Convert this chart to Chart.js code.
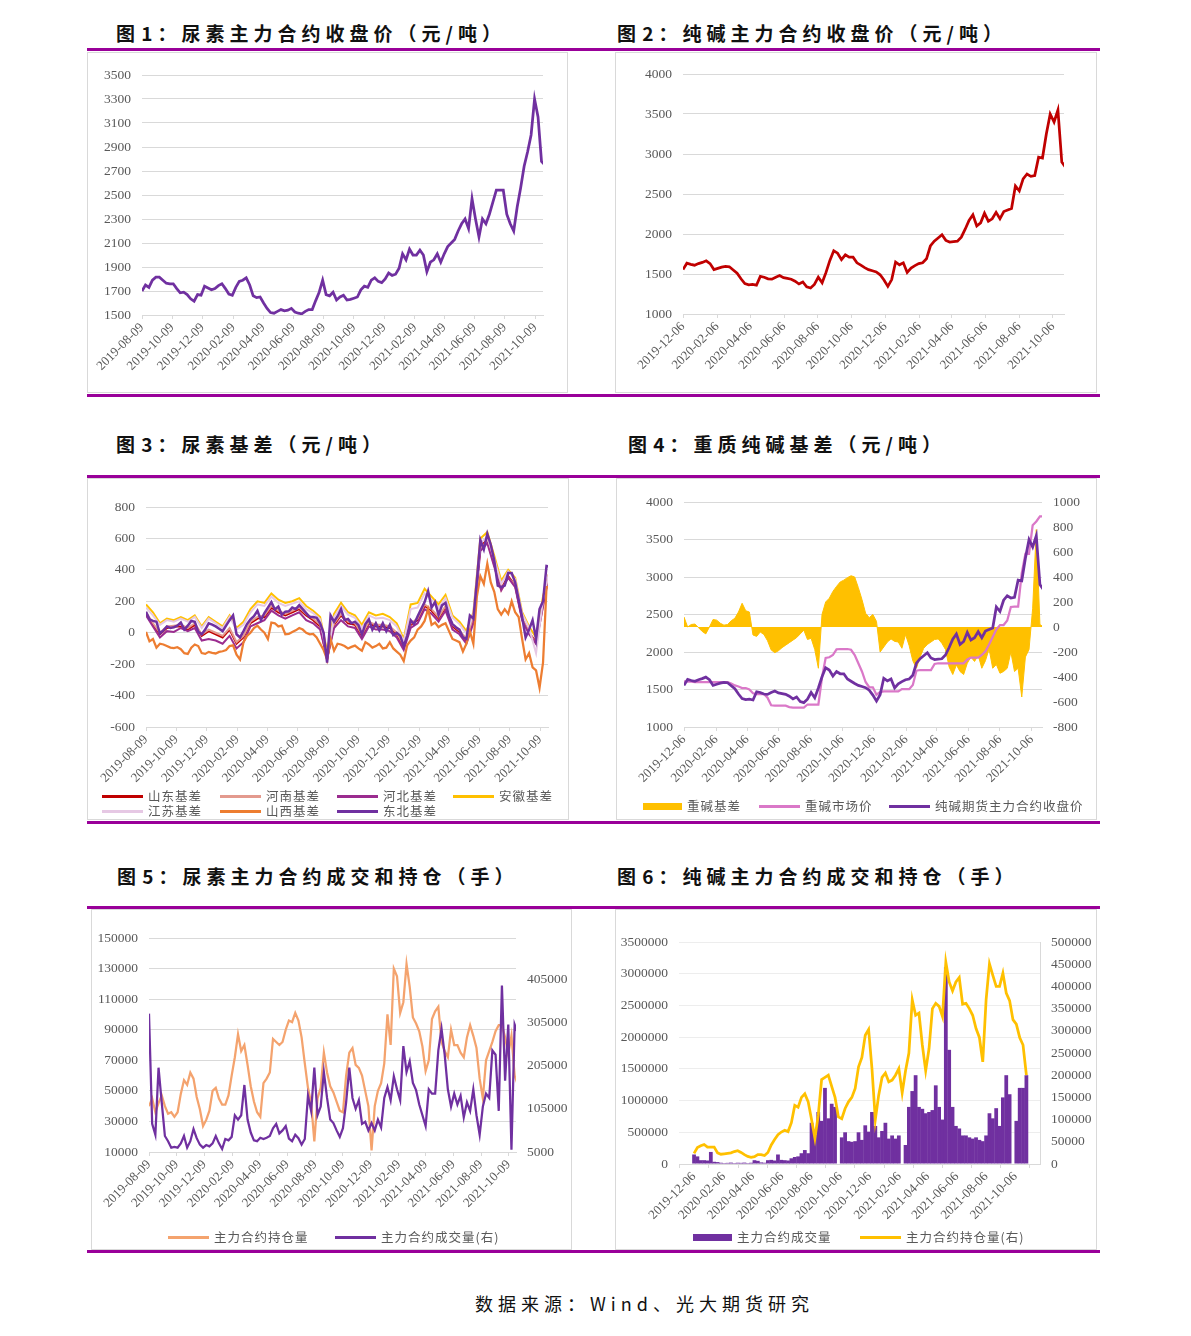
<!DOCTYPE html>
<html><head><meta charset="utf-8">
<script src="https://cdn.jsdelivr.net/npm/chart.js@4.4.1/dist/chart.umd.min.js"></script>
<style>
html,body{margin:0;padding:0;background:#fff;}
#page{position:relative;width:1191px;height:1336px;overflow:hidden;background:#fff;}
.title{position:absolute;font-family:'Noto Sans CJK SC',sans-serif;font-weight:700;font-size:19px;line-height:19px;letter-spacing:5px;word-spacing:-8px;color:#111;white-space:nowrap;}
.rule{position:absolute;left:87px;width:1013px;height:3px;background:#990099;}
.panel{position:absolute;box-sizing:border-box;border:1px solid #d9d9d9;}
canvas{position:absolute;}
.lg{position:absolute;display:flex;align-items:center;height:14px;font-family:'Noto Sans CJK SC',sans-serif;font-size:12.5px;line-height:14px;letter-spacing:1px;color:#595959;white-space:nowrap;}
.lg .mk{display:inline-block;margin-right:5px;}
.foot{position:absolute;left:475px;top:1293px;font-family:'Noto Sans CJK SC',sans-serif;font-size:18px;line-height:20px;letter-spacing:5px;color:#111;white-space:nowrap;}
</style></head>
<body>
<div id="page">
  <div class="title" style="left:116px;top:23px">图 1：尿素主力合约收盘价（元/吨）</div>
  <div class="title" style="left:617px;top:23px">图 2：纯碱主力合约收盘价（元/吨）</div>
  <div class="rule" style="top:48px"></div>
  <div class="panel" style="left:87px;top:52px;width:481px;height:341px"></div>
  <div class="panel" style="left:615px;top:52px;width:482px;height:341px"></div>
  <div class="rule" style="top:394px"></div>

  <div class="title" style="left:116px;top:434px">图 3：尿素基差（元/吨）</div>
  <div class="title" style="left:628px;top:434px">图 4：重质纯碱基差（元/吨）</div>
  <div class="rule" style="top:475px"></div>
  <div class="panel" style="left:87px;top:478px;width:482px;height:342px"></div>
  <div class="panel" style="left:616px;top:478px;width:481px;height:342px"></div>
  <div class="rule" style="top:821px"></div>

  <div class="title" style="left:117px;top:866px">图 5：尿素主力合约成交和持仓（手）</div>
  <div class="title" style="left:617px;top:866px">图 6：纯碱主力合约成交和持仓（手）</div>
  <div class="rule" style="top:906px"></div>
  <div class="panel" style="left:91px;top:909px;width:481px;height:341px"></div>
  <div class="panel" style="left:615px;top:909px;width:482px;height:341px"></div>
  <div class="rule" style="top:1250px"></div>

  <canvas id="c1" width="479" height="340" style="left:87px;top:52px;width:479px;height:340px"></canvas>
  <canvas id="c2" width="482" height="340" style="left:615px;top:52px;width:482px;height:340px"></canvas>
  <canvas id="c3" width="483" height="340" style="left:87px;top:479px;width:483px;height:340px"></canvas>
  <canvas id="c4" width="482" height="340" style="left:615px;top:479px;width:482px;height:340px"></canvas>
  <canvas id="c5" width="481" height="339" style="left:91px;top:910px;width:481px;height:339px"></canvas>
  <canvas id="c6" width="482" height="339" style="left:615px;top:910px;width:482px;height:339px"></canvas>

  <div class="foot">数据来源：Wind、光大期货研究</div>
</div>
<script>
// ---------------- DATA ----------------
const ureaStart = '2019-08-09';   // first sample of urea series
const sodaStart = '2019-12-06';   // first sample of soda ash series
const weekStep = 7;               // days between samples
const biweekStep = 14;

const ureaDateTicks = ['2019-08-09','2019-10-09','2019-12-09','2020-02-09','2020-04-09','2020-06-09','2020-08-09','2020-10-09','2020-12-09','2021-02-09','2021-04-09','2021-06-09','2021-08-09','2021-10-09'];
const sodaDateTicks = ['2019-12-06','2020-02-06','2020-04-06','2020-06-06','2020-08-06','2020-10-06','2020-12-06','2021-02-06','2021-04-06','2021-06-06','2021-08-06','2021-10-06'];

const ureaPriceTicks = [1500,1700,1900,2100,2300,2500,2700,2900,3100,3300,3500];
const sodaPriceTicks = [1000,1500,2000,2500,3000,3500,4000];
const ureaBasisTicks = [-600,-400,-200,0,200,400,600,800];
const heavyBasisTicks = [-800,-600,-400,-200,0,200,400,600,800,1000];
const ureaOITicks = [10000,30000,50000,70000,90000,110000,130000,150000];
const ureaVolTicks = [5000,105000,205000,305000,405000];
const sodaVolTicks = [0,500000,1000000,1500000,2000000,2500000,3000000,3500000];
const sodaOITicks = [0,50000,100000,150000,200000,250000,300000,350000,400000,450000,500000];

// 图1 尿素主力合约收盘价 (weekly)
const ureaClose = [1700,1750,1730,1790,1815,1815,1790,1765,1760,1760,
 1720,1685,1690,1670,1635,1615,1670,1665,1740,1725,
 1710,1720,1745,1760,1720,1675,1665,1730,1780,1790,
 1810,1750,1660,1645,1650,1600,1555,1520,1515,1530,
 1545,1535,1540,1555,1525,1515,1510,1530,1545,1545,
 1620,1690,1790,1670,1660,1690,1625,1650,1665,1625,
 1630,1640,1650,1710,1740,1730,1790,1810,1780,1770,
 1800,1850,1830,1840,1890,2010,1960,2050,2000,2000,
 2040,2000,1860,1940,1960,2010,1940,2010,2070,2100,
 2130,2200,2260,2300,2220,2470,2300,2150,2300,2260,
 2340,2440,2540,2540,2540,2340,2260,2200,2400,2560,
 2740,2860,3000,3300,3150,2780,2750];

// 图2 / 图4 纯碱主力合约收盘价 (weekly)
const sodaClose = [1555,1635,1620,1610,1630,1645,1665,1630,1555,1570,
 1585,1595,1590,1550,1510,1440,1380,1365,1370,1360,
 1470,1460,1440,1435,1460,1480,1455,1445,1435,1410,
 1375,1400,1340,1325,1370,1460,1390,1520,1670,1790,
 1760,1680,1740,1710,1710,1640,1610,1580,1555,1540,
 1525,1490,1425,1345,1430,1650,1615,1640,1520,1575,
 1605,1630,1640,1690,1850,1910,1950,1990,1920,1900,
 1905,1910,1960,2060,2170,2240,2100,2140,2260,2160,
 2190,2270,2190,2280,2300,2320,2600,2540,2690,2750,
 2720,2730,2960,2950,3250,3500,3400,3550,2900,2830];

// 图3 尿素基差
const basisDongbei = [134,85,75,70,-5,15,40,30,35,45,
 65,20,45,75,70,6,-10,20,60,52,
 40,25,10,45,80,110,-10,-30,10,55,
 85,105,140,80,125,160,195,148,166,115,
 134,136,160,150,175,150,125,100,100,95,
 60,0,-190,110,70,105,150,80,88,60,
 70,48,-10,55,85,20,60,15,60,10,
 50,-15,0,-20,-85,-20,80,55,105,150,
 195,265,160,195,115,175,190,105,55,35,
 20,-30,-40,110,90,330,590,530,630,560,
 460,300,290,300,380,380,320,210,100,-30,
 20,80,-40,150,200,425,420];
const basisShanxi = [5,-55,-40,-95,-70,-75,-85,-95,-98,-92,
 -105,-130,-135,-95,-75,-85,-130,-135,-122,-128,
 -132,-122,-118,-110,-85,-80,-140,-170,-60,-20,
 0,30,45,20,0,-40,65,60,40,45,
 -10,-8,5,15,30,20,0,-10,-8,-30,
 -70,-110,-170,-40,-115,-70,-75,-85,-100,-90,
 -82,-100,-115,-60,-75,-95,-85,-70,-100,-95,
 -60,-100,-120,-140,-180,-80,-50,-30,20,40,
 75,150,50,65,35,50,60,10,-40,-50,
 -60,-120,-70,10,-70,230,360,310,440,320,
 260,150,115,150,120,200,130,100,-40,-170,
 -130,-220,-240,-350,-190,290,290];
// biweekly
const basisShandong = [120,50,-10,30,40,40,20,50,-20,10, -10,-30,20,-70,-30,60,90,100,160,130, 110,130,150,110,80,40,-170,50,110,60, 50,-20,60,40,40,30,-10,-90,50,80, 170,140,90,160,40,5,-50,80,550,590, 440,280,360,300,90,0,-60,180,400];
const basisHenan = [130,60,0,40,45,50,30,60,-10,20, 0,-20,30,-60,-20,70,100,110,170,140, 120,140,160,120,90,50,-160,60,120,70, 60,-10,70,50,50,40,0,-80,60,90, 180,150,100,170,50,15,-40,90,540,580, 430,270,350,300,90,0,-70,170,390];
const basisHebei = [110,40,-30,10,5,30,10,30,-50,-40, -50,-70,-20,-100,-60,40,60,80,140,110, 90,110,130,80,60,20,-160,30,80,40, 30,-40,40,20,20,10,-30,-110,30,60, 150,120,70,140,20,-10,-70,60,520,570, 420,270,350,290,80,-10,-70,170,410];
const basisAnhui = [180,130,60,90,80,100,80,110,40,100, 70,40,110,30,70,150,200,190,250,210, 190,200,220,170,140,100,-120,120,190,130, 110,50,130,110,120,100,60,-40,180,190, 280,230,180,240,110,70,10,130,600,640, 490,330,400,350,130,40,-30,230,400];
const basisJiangsu = [160,110,50,80,70,90,70,100,30,90, 60,30,100,20,50,130,180,170,230,190, 170,185,200,150,125,85,-150,100,170,115, 95,30,110,90,95,80,40,-55,150,160, 250,210,160,220,95,55,-5,120,570,610, 470,310,390,340,120,30,-130,210,410];

// 图4 重质纯碱 (weekly)
const heavySodaBasis = [80,0,20,24,-5,-35,-55,0,60,55,
 30,15,20,50,70,120,190,130,120,-64,
 -75,-40,-60,-110,-183,-205,-190,-165,-145,-125,
 -105,-85,-55,-25,-100,-90,-180,-330,100,200,
 230,285,325,360,375,395,410,400,315,220,
 110,75,100,45,-200,-160,-120,-95,-115,-120,
 -170,-60,-150,-270,-330,-240,-170,-140,-120,-100,
 -95,-130,-180,-320,-380,-303,-356,-380,-290,-240,
 -276,-225,-330,-270,-175,-330,-300,-370,-356,-330,
 -200,-356,-330,-560,-240,-180,150,780,20,0];
const heavySodaPrice = [1610,1605,1605,1600,1600,1600,1600,1600,1600,1600,
 1600,1600,1600,1580,1555,1540,1520,1520,1500,1450,
 1440,1440,1440,1390,1290,1285,1285,1285,1285,1265,
 1260,1260,1260,1260,1300,1300,1300,1300,1660,1920,
 1930,1960,2035,2040,2040,2040,2030,1960,1850,1740,
 1600,1530,1530,1430,1465,1475,1475,1475,1475,1475,
 1505,1505,1505,1560,1750,1760,1760,1760,1760,1840,
 1850,1850,1850,1850,1850,1850,1850,1850,1900,1925,
 1925,1925,1960,2010,2100,2200,2300,2360,2360,2420,
 2600,2605,2605,3050,3310,3310,3690,3740,3810,3810];

// 图5 尿素成交持仓 (weekly)
const ureaOI = [40000,45000,36000,42000,47000,40000,35000,36000,33000,36000,
 48000,57000,54000,62000,58000,46000,38000,27000,31000,37000,
 50000,52000,45000,41000,41000,47000,60000,72000,87000,76000,
 80000,67000,53000,43000,36000,33000,55000,58000,62000,84000,
 82000,80000,82000,90000,96000,95000,101000,96000,85000,68000,
 52000,42000,17000,45000,52000,75000,62000,53000,49000,43000,
 37000,36000,60000,75000,78000,67000,65000,60000,50000,40000,
 11000,40000,50000,55000,68000,100000,80000,130000,125000,101000,
 108000,133000,118000,98000,94000,89000,79000,63000,70000,97000,
 102000,105000,82000,76000,72000,90000,80000,80000,75000,72000,
 85000,93000,86000,78000,58000,45000,70000,76000,82000,89000,
 93000,93000,85000,74000,86000,60000,54000];
const ureaVol = [325000,70000,45000,200000,120000,42000,30000,15000,17000,15000,
 25000,42000,15000,30000,58000,37000,22000,15000,21000,18000,
 25000,42000,25000,12000,35000,32000,40000,90000,80000,90000,
 160000,80000,50000,32000,30000,38000,35000,38000,42000,60000,
 70000,48000,55000,65000,36000,30000,45000,37000,22000,35000,
 135000,100000,200000,90000,110000,190000,130000,80000,72000,55000,
 40000,60000,120000,200000,130000,105000,125000,70000,75000,55000,
 72000,55000,80000,62000,130000,155000,125000,180000,150000,125000,
 250000,190000,215000,165000,148000,115000,90000,65000,150000,140000,
 140000,240000,290000,230000,150000,110000,140000,115000,135000,85000,
 120000,100000,150000,90000,45000,110000,140000,130000,240000,230000,
 100000,390000,170000,300000,10000,300000,280000];

// 图6 纯碱成交持仓 (weekly)
const sodaVol = [150000,120000,60000,60000,55000,190000,35000,30000,20000,15000,
 18000,22000,15000,20000,18000,22000,15000,20000,60000,50000,
 25000,20000,60000,65000,55000,150000,65000,60000,55000,90000,
 110000,120000,170000,220000,170000,650000,460000,820000,680000,1200000,
 720000,950000,900000,null,420000,500000,360000,350000,360000,500000,
 380000,610000,510000,820000,600000,420000,520000,650000,400000,450000,
 400000,450000,null,300000,900000,1150000,1400000,900000,870000,800000,
 820000,850000,1240000,900000,700000,3100000,1800000,900000,600000,560000,
 450000,450000,420000,400000,420000,380000,360000,450000,800000,720000,
 880000,600000,1050000,1400000,1100000,null,680000,1200000,1200000,1400000];
const sodaOI = [24000,37000,41000,44000,38000,38000,38000,25000,22000,23000,
 24000,25000,28000,30000,26000,21000,17000,15000,16500,21000,
 21000,19000,26000,43000,55000,66000,72000,76000,73000,93000,
 132000,128000,150000,158000,140000,100000,58000,110000,190000,195000,
 200000,175000,150000,106000,102000,125000,140000,150000,170000,219000,
 240000,290000,303000,215000,100000,155000,195000,205000,185000,189000,
 200000,215000,160000,210000,250000,370000,335000,340000,268000,210000,
 260000,350000,362000,355000,332000,455000,410000,390000,410000,420000,
 360000,362000,350000,335000,305000,285000,230000,370000,451000,425000,
 400000,400000,430000,385000,368000,325000,315000,285000,268000,200000];

// ---------------- HELPERS ----------------
const SERIF = "'Liberation Serif','Times New Roman',serif";
const AXIS_COLOR = '#595959';
const GRID = '#d9d9d9';
const DAY = 86400000;
function dayOf(s){ const p = s.split('-').map(Number); return Date.UTC(p[0], p[1]-1, p[2]) / DAY; }
function pts(step, values){ return values.map((v, i) => ({x: i * step, y: v})); }

function xScale(start, labels, max, height){
  const t0 = dayOf(start);
  const vals = labels.map(s => dayOf(s) - t0);
  return {
    type: 'linear', position: 'bottom', min: 0, max: max,
    afterBuildTicks: s => { s.ticks = vals.map(v => ({value: v})); },
    afterFit: s => { s.height = height; },
    ticks: { autoSkip: false, minRotation: 45, maxRotation: 45, padding: 1,
      font: {family: SERIF, size: 13}, color: AXIS_COLOR,
      callback: (v, i) => labels[i] },
    grid: { display: true, drawOnChartArea: false, drawTicks: true, tickLength: 4, color: GRID },
    border: { display: true, color: GRID }
  };
}
function yScale(ticks, pos, width, o){
  o = o || {};
  return {
    type: 'linear', position: pos, min: ticks[0], max: (o.max !== undefined ? o.max : ticks[ticks.length-1]),
    afterBuildTicks: s => { s.ticks = ticks.map(v => ({value: v})); },
    afterFit: s => { s.width = width; },
    ticks: { font: {family: SERIF, size: 13.5}, color: AXIS_COLOR, padding: 11, callback: v => String(v) },
    grid: { display: o.grid !== false, color: o.gridColor || GRID, drawTicks: false },
    border: { display: !!o.border, color: GRID }
  };
}
function baseOptions(padding, scales){
  return {
    responsive: false, animation: false, devicePixelRatio: 1,
    layout: { padding: padding },
    plugins: { legend: { display: false }, tooltip: { enabled: false } },
    elements: { point: { radius: 0 }, line: { tension: 0 } },
    scales: scales
  };
}
function line(label, data, color, width, extra){
  return Object.assign({ type: 'line', label: label, data: data, borderColor: color, backgroundColor: color,
    borderWidth: width, pointRadius: 0, fill: false, spanGaps: true }, extra || {});
}
function addLegend(chart, spots){
  const page = document.getElementById('page');
  chart.data.datasets.forEach((ds, i) => {
    const sp = spots[i];
    const isBox = ds.type === 'bar' || !!ds.fill;
    const el = document.createElement('div');
    el.className = 'lg';
    el.style.left = sp[0] + 'px';
    el.style.top = (sp[1] - 7) + 'px';
    const mk = document.createElement('span');
    mk.className = 'mk';
    mk.style.width = (isBox ? 39 : 41) + 'px';
    mk.style.height = (isBox ? 7 : 3) + 'px';
    mk.style.background = isBox ? ds.backgroundColor : ds.borderColor;
    el.appendChild(mk);
    el.appendChild(document.createTextNode(ds.label));
    page.appendChild(el);
  });
}

// ---------------- CHARTS ----------------
const URX = 808, SDX = 690;

// 图1
new Chart(document.getElementById('c1'), {
  type: 'line',
  data: { datasets: [ line('尿素主力合约收盘价', pts(weekStep, ureaClose), '#7030A0', 2.75) ] },
  options: baseOptions({left: 0, right: 23, top: 23, bottom: 0}, {
    x: xScale(ureaStart, ureaDateTicks, URX, 77),
    y: yScale(ureaPriceTicks, 'left', 55)
  })
});

// 图2
new Chart(document.getElementById('c2'), {
  type: 'line',
  data: { datasets: [ line('纯碱主力合约收盘价', pts(weekStep, sodaClose), '#C00000', 2.75) ] },
  options: baseOptions({left: 0, right: 33, top: 22, bottom: 0}, {
    x: xScale(sodaStart, sodaDateTicks, SDX, 78),
    y: yScale(sodaPriceTicks, 'left', 68)
  })
});

// 图3
const ch3 = new Chart(document.getElementById('c3'), {
  type: 'line',
  data: { datasets: [
    line('山东基差', pts(biweekStep, basisShandong), '#C00000', 2, {order: 6}),
    line('河南基差', pts(biweekStep, basisHenan), '#E39A8E', 2, {order: 5}),
    line('河北基差', pts(biweekStep, basisHebei), '#9B2C8F', 2, {order: 4}),
    line('安徽基差', pts(biweekStep, basisAnhui), '#FFC000', 2, {order: 3}),
    line('江苏基差', pts(biweekStep, basisJiangsu), '#E6C8E4', 2, {order: 2}),
    line('山西基差', pts(weekStep, basisShanxi), '#ED7D31', 2.25, {order: 1}),
    line('东北基差', pts(weekStep, basisDongbei), '#7030A0', 2.5, {order: 0})
  ] },
  options: baseOptions({left: 0, right: 22, top: 28, bottom: 0}, {
    x: xScale(ureaStart, ureaDateTicks, URX, 92),
    y: yScale(ureaBasisTicks, 'left', 59)
  })
});
addLegend(ch3, [[102,796],[220,796],[337,796],[453,796],[102,811],[220,811],[337,811]]);

// 图4
const ch4 = new Chart(document.getElementById('c4'), {
  type: 'line',
  data: { datasets: [
    line('重碱基差', pts(weekStep, heavySodaBasis), '#FFC000', 1, {yAxisID: 'y1', fill: 'origin', backgroundColor: '#FFC000', order: 2}),
    line('重碱市场价', pts(weekStep, heavySodaPrice), '#DA78C8', 2.25, {yAxisID: 'y', order: 1}),
    line('纯碱期货主力合约收盘价', pts(weekStep, sodaClose), '#7030A0', 2.75, {yAxisID: 'y', order: 0})
  ] },
  options: baseOptions({left: 0, right: 0, top: 23, bottom: 0}, {
    x: xScale(sodaStart, sodaDateTicks, SDX, 92),
    y: yScale(sodaPriceTicks, 'left', 69),
    y1: yScale(heavyBasisTicks, 'right', 55, {grid: false})
  })
});
addLegend(ch4, [[643,806],[759,806],[889,806]]);

// 图5
const ch5 = new Chart(document.getElementById('c5'), {
  type: 'line',
  data: { datasets: [
    line('主力合约持仓量', pts(weekStep, ureaOI), '#F4A36E', 2.25, {yAxisID: 'y', order: 1}),
    line('主力合约成交量(右)', pts(weekStep, ureaVol), '#7030A0', 2.25, {yAxisID: 'y1', order: 0})
  ] },
  options: baseOptions({left: 0, right: 0, top: 28, bottom: 0}, {
    x: xScale(ureaStart, ureaDateTicks, URX, 97),
    y: yScale(ureaOITicks, 'left', 58),
    y1: yScale(ureaVolTicks, 'right', 56, {grid: false, max: 500000})
  })
});
addLegend(ch5, [[168,1237],[335,1237]]);

// 图6
const ch6 = new Chart(document.getElementById('c6'), {
  type: 'line',
  data: { datasets: [
    { type: 'bar', label: '主力合约成交量', data: pts(weekStep, sodaVol), backgroundColor: '#7030A0', borderWidth: 0,
      barPercentage: 1.12, categoryPercentage: 1, yAxisID: 'y', order: 1 },
    line('主力合约持仓量(右)', pts(weekStep, sodaOI), '#FFC000', 2.75, {yAxisID: 'y1', order: 0})
  ] },
  options: baseOptions({left: 0, right: 0, top: 32, bottom: 0}, {
    x: xScale(sodaStart, sodaDateTicks, SDX, 85),
    y: yScale(sodaVolTicks, 'left', 64, {gridColor: '#ededed'}),
    y1: yScale(sodaOITicks, 'right', 57, {grid: false, border: true})
  })
});
addLegend(ch6, [[693,1237],[860,1237]]);
</script>
</body></html>
